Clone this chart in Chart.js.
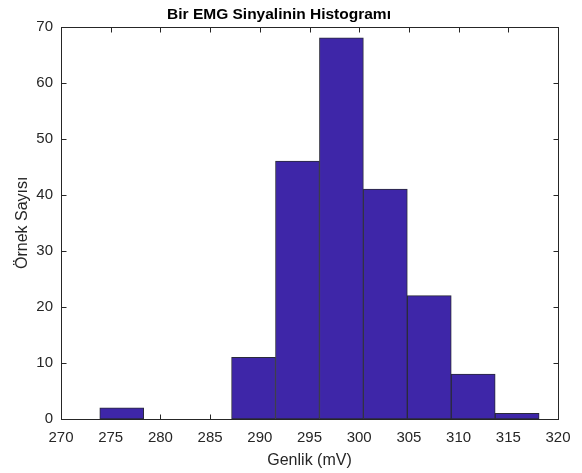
<!DOCTYPE html>
<html>
<head>
<meta charset="utf-8">
<script src="https://cdn.jsdelivr.net/npm/chart.js@4"></script>
<style>
  html, body { margin: 0; padding: 0; background: #fff; }
  #wrap { width: 582px; height: 473px; }
</style>
</head>
<body>
<div id="wrap"><canvas id="hist"></canvas></div>
<script>
// Histogram bins (centres in mV) and counts per bin
const binCenters = [276.11, 280.53, 284.95, 289.37, 293.79, 298.21, 302.63, 307.05, 311.47, 315.89];
const counts = [2, 0, 0, 11, 46, 68, 41, 22, 8, 1];
const xRange = [270, 320];
const yRange = [0, 70];

const axisColor = '#262626';

// MATLAB-style box with inward tick marks, drawn under the bars
const boxTicks = {
    id: 'boxTicks',
    beforeDatasetsDraw(chart) {
        const ctx = chart.ctx;
        const a = chart.chartArea;
        const xs = chart.scales.x, ys = chart.scales.y;
        const L = Math.round(a.left) + 0.5, R = Math.round(a.right) + 0.5;
        const T = Math.round(a.top) + 0.5, B = Math.round(a.bottom) + 0.5;
        ctx.save();
        ctx.strokeStyle = axisColor;
        ctx.lineWidth = 1;
        ctx.beginPath();
        xs.ticks.forEach(t => {
            const px = Math.round(xs.getPixelForValue(t.value)) + 0.5;
            ctx.moveTo(px, B); ctx.lineTo(px, B - 5);
            ctx.moveTo(px, T); ctx.lineTo(px, T + 5);
        });
        ys.ticks.forEach(t => {
            const py = Math.round(ys.getPixelForValue(t.value)) + 0.5;
            ctx.moveTo(L, py); ctx.lineTo(L + 5, py);
            ctx.moveTo(R, py); ctx.lineTo(R - 5, py);
        });
        ctx.stroke();
        ctx.strokeRect(L, T, R - L, B - T);
        ctx.restore();
    }
};

const ctx = document.getElementById('hist').getContext('2d');
new Chart(ctx, {
    type: 'bar',
    data: {
        datasets: [{
            data: binCenters.map((c, i) => ({ x: c, y: counts[i] })),
            backgroundColor: 'rgb(62, 38, 168)',
            borderColor: '#2a2a3a',
            borderWidth: 1,
            borderSkipped: false,
            barPercentage: 1,
            categoryPercentage: 1,
            grouped: false
        }]
    },
    options: {
        responsive: true,
        maintainAspectRatio: false,
        animation: false,
        layout: { padding: { left: 0, right: 24, top: 0, bottom: 0 } },
        plugins: {
            legend: { display: false },
            tooltip: { enabled: false },
            title: {
                display: true,
                text: 'Bir EMG Sinyalinin Histogramı',
                color: '#000',
                font: { family: 'Liberation Sans, Arial, sans-serif', size: 15.5, weight: 'bold' },
                padding: { top: 5, bottom: 3 }
            }
        },
        scales: {
            x: {
                type: 'linear',
                min: xRange[0],
                max: xRange[1],
                offset: false,
                grid: { display: false, drawTicks: false, offset: false },
                border: { display: false },
                ticks: {
                    stepSize: 5,
                    padding: 10,
                    color: axisColor,
                    font: { family: 'Liberation Sans, Arial, sans-serif', size: 15 }
                },
                title: {
                    display: true,
                    text: 'Genlik (mV)',
                    color: axisColor,
                    font: { family: 'Liberation Sans, Arial, sans-serif', size: 16 },
                    padding: { top: 0, bottom: 3 }
                },
                afterFit(scale) { scale.height = 54; }
            },
            y: {
                min: yRange[0],
                max: yRange[1],
                grid: { display: false, drawTicks: false },
                border: { display: false },
                ticks: {
                    stepSize: 10,
                    padding: 8,
                    color: axisColor,
                    font: { family: 'Liberation Sans, Arial, sans-serif', size: 15 }
                },
                title: {
                    display: true,
                    text: 'Örnek Sayısı',
                    color: axisColor,
                    font: { family: 'Liberation Sans, Arial, sans-serif', size: 16 },
                    padding: { top: 13, bottom: 0 }
                },
                afterFit(scale) { scale.width = 61; }
            }
        }
    },
    plugins: [boxTicks]
});
</script>
</body>
</html>
